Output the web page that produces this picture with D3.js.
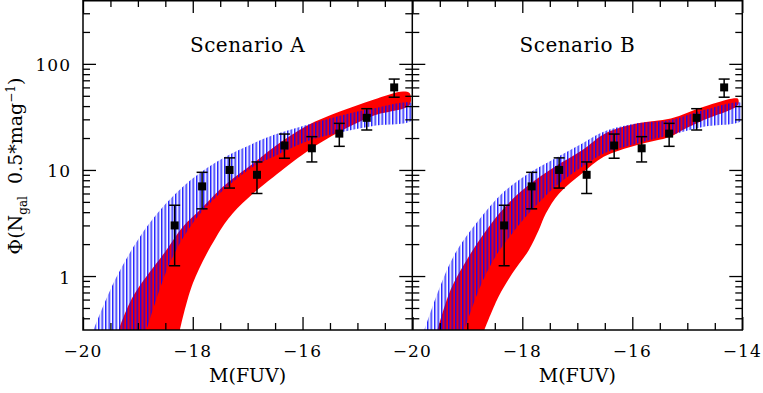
<!DOCTYPE html>
<html>
<head>
<meta charset="utf-8">
<script src="https://cdn.jsdelivr.net/npm/d3@7"></script>
<style>
body{margin:0;background:#fff}
svg{display:block;font-family:"DejaVu Serif",serif}
</style>
</head>
<body>
<div id="chart"></div>
<script>
var width = 763, height = 393;

// observed galaxy counts per 0.5 mag bin (same in both panels)
var mag   = [-18.33, -17.83, -17.33, -16.83, -16.33, -15.83, -15.33, -14.83, -14.33];
var phi   = [3, 7, 10, 9, 17, 16, 22, 31, 60];
var phiLo = [1.25, 4.3, 6.75, 6.0, 12.9, 11.9, 16.7, 23.8, 48.5];
var phiHi = [4.65, 9.5, 13.0, 11.9, 21.8, 20.6, 27.5, 37.8, 71.9];

// model envelopes, [M(FUV), phi]  -- scenario A
var redUpperA  = [[-19.36,0.3],[-19.09,0.64],[-18.48,1.76],[-18.18,2.92],[-17.87,4.19],[-17.45,6.95],[-17.14,9.3],[-16.9,11.5],[-16.53,16.3],[-15.93,26],[-15.32,35.5],[-14.71,46],[-14.17,55],[-14.05,53]];
var redLowerA  = [[-18.24,0.3],[-18.0,0.85],[-17.57,2.35],[-17.27,3.9],[-16.9,6.0],[-16.53,8.6],[-15.93,14.8],[-15.32,23],[-14.71,32.5],[-14.05,41]];
var blueUpperA = [[-19.82,0.3],[-19.39,0.98],[-18.79,3.14],[-18.18,6.95],[-17.57,11.9],[-16.9,17.8],[-16.53,21.3],[-15.93,26.5],[-15.32,32.5],[-14.71,38],[-14.0,42]];
var blueLowerA = [[-18.85,0.3],[-18.42,1.32],[-18.0,3.14],[-17.57,5.59],[-16.9,10.7],[-16.53,13.3],[-15.93,18.5],[-15.32,22.5],[-14.71,26],[-14.0,29.5]];

// scenario B
var redUpperB  = [[-19.55,0.3],[-19.3,0.75],[-19.0,1.45],[-18.7,2.5],[-18.4,4.0],[-18.1,5.8],[-17.8,7.8],[-17.4,10.8],[-16.9,15.5],[-16.5,22],[-15.9,27.5],[-15.3,30.6],[-14.7,39.4],[-14.15,47.3],[-14.08,47]];
var redLowerB  = [[-18.7,0.3],[-18.43,0.64],[-18.18,1.06],[-17.88,1.76],[-17.7,2.71],[-17.57,3.9],[-17.33,6.0],[-16.91,9.3],[-16.52,13.3],[-15.91,17.2],[-15.31,20.6],[-15.1,23.5],[-14.7,29.5],[-14.08,40.9]];
var blueUpperB = [[-19.79,0.3],[-19.52,0.74],[-19.22,1.64],[-18.79,3.37],[-18.37,6.0],[-17.88,9.3],[-17.4,12.9],[-16.91,17.8],[-16.52,22.9],[-15.91,27.5],[-15.31,29.5],[-14.7,36.7],[-14.0,42.4]];
var blueLowerB = [[-19.06,0.3],[-18.79,0.74],[-18.49,1.52],[-18.18,2.53],[-17.88,3.9],[-17.4,6.95],[-16.91,10.7],[-16.52,14.3],[-15.91,17.8],[-15.31,21.3],[-14.7,25.5],[-14.0,29.5]];

// axis ticks
var xMajor = [-20, -18, -16, -14];
var xMinor = [-19.5, -19, -18.5, -17.5, -17, -16.5, -15.5, -15, -14.5];
var yMajor = [1, 10, 100];
var yMinor = [0.4,0.5,0.6,0.7,0.8,0.9,2,3,4,5,6,7,8,9,20,30,40,50,60,70,80,90,200,300];

var plotTop = 0, plotBottom = 330;
var panels = [
  {title: "Scenario A", x0: 83, x1: 412.3, red: [redUpperA, redLowerA], blue: [blueUpperA, blueLowerA], xLabels: [-20, -18, -16]},
  {title: "Scenario B", x0: 412.3, x1: 742.3, red: [redUpperB, redLowerB], blue: [blueUpperB, blueLowerB], xLabels: [-20, -18, -16, -14]}
];

var svg = d3.select("#chart").append("svg")
    .attr("width", width)
    .attr("height", height);

var defs = svg.append("defs");
//vertical hatching for the blue envelope
var pat = defs.append("pattern")
    .attr("id", "hatch")
    .attr("patternUnits", "userSpaceOnUse")
    .attr("width", 3.5).attr("height", 20);
pat.append("rect").attr("x", 0).attr("y", 0).attr("width", 1.3).attr("height", 20)
    .attr("fill", "#0808ff").attr("fill-opacity", 0.9);
pat.append("rect").attr("x", 1.3).attr("y", 0).attr("width", 0.9).attr("height", 20)
    .attr("fill", "#0000ff").attr("fill-opacity", 0.3);

var y = d3.scaleLog().domain([0.31, 400]).range([plotBottom, plotTop]);
var fmt = d3.format("d");

panels.forEach(function(p, i) {
  var x = d3.scaleLinear().domain([-20, -14]).range([p.x0, p.x1]);

  defs.append("clipPath").attr("id", "clip" + i)
    .append("rect").attr("x", p.x0).attr("y", plotTop).attr("width", p.x1 - p.x0).attr("height", plotBottom - plotTop);

  var line = d3.line()
      .x(function(d) { return x(d[0]); })
      .y(function(d) { return y(d[1]); })
      .curve(d3.curveCatmullRom.alpha(0.5));

  var band = svg.append("g").attr("clip-path", "url(#clip" + i + ")");
  band.append("path")
      .attr("d", line(p.red[0].concat(p.red[1].slice().reverse())) + "Z")
      .attr("fill", "#ff0000");
  band.append("path")
      .attr("d", line(p.blue[0].concat(p.blue[1].slice().reverse())) + "Z")
      .attr("fill", "url(#hatch)");

  //error bars + squares
  var pts = svg.append("g");
  mag.forEach(function(m, k) {
    var cx = x(m);
    pts.append("line").attr("x1", cx).attr("x2", cx).attr("y1", y(phiLo[k])).attr("y2", y(phiHi[k]))
      .attr("stroke", "#000").attr("stroke-width", 1.5);
    [phiLo[k], phiHi[k]].forEach(function(v) {
      pts.append("line").attr("x1", cx - 5.5).attr("x2", cx + 5.5).attr("y1", y(v)).attr("y2", y(v))
        .attr("stroke", "#000").attr("stroke-width", 1.5);
    });
    pts.append("rect").attr("x", cx - 4).attr("y", y(phi[k]) - 4).attr("width", 8).attr("height", 8).attr("fill", "#000");
  });

  //ticks, all pointing inward
  function ticks(axis, tx, ty, vals, size) {
    var g = svg.append("g").attr("transform", "translate(" + tx + "," + ty + ")")
      .call(axis.tickValues(vals).tickSize(-size).tickFormat(""));
    g.select(".domain").remove();
    g.selectAll("line").attr("stroke", "#000").attr("stroke-width", 1.3);
  }
  ticks(d3.axisBottom(x), 0, plotBottom, xMajor, 13);
  ticks(d3.axisBottom(x), 0, plotBottom, xMinor, 7);
  ticks(d3.axisTop(x), 0, plotTop, xMajor, 13);
  ticks(d3.axisTop(x), 0, plotTop, xMinor, 7);
  ticks(d3.axisLeft(y), p.x0, 0, yMajor, 13);
  ticks(d3.axisLeft(y), p.x0, 0, yMinor, 7);
  ticks(d3.axisRight(y), p.x1, 0, yMajor, 13);
  ticks(d3.axisRight(y), p.x1, 0, yMinor, 7);

  svg.append("g").selectAll("text").data(p.xLabels).join("text")
      .attr("x", function(d) { return x(d); })
      .attr("y", 356.5)
      .attr("text-anchor", "middle")
      .style("font-size", "17px")
      .style("letter-spacing", "1px")
      .text(function(d) { return fmt(d); });

  svg.append("text")
      .attr("x", (p.x0 + p.x1) / 2).attr("y", 382)
      .attr("text-anchor", "middle")
      .style("font-size", "19px")
      .text("M(FUV)");

  svg.append("text")
      .attr("x", (p.x0 + p.x1) / 2).attr("y", 51.5)
      .attr("text-anchor", "middle")
      .style("font-size", "20px")
      .style("letter-spacing", "0.5px")
      .text(p.title);
});

// frame
svg.append("rect").attr("x", 83).attr("y", 0.75).attr("width", 742.3 - 83).attr("height", plotBottom - 0.75)
    .attr("fill", "none").attr("stroke", "#000").attr("stroke-width", 1.5);
svg.append("line").attr("x1", 412.3).attr("x2", 412.3).attr("y1", 0).attr("y2", plotBottom)
    .attr("stroke", "#000").attr("stroke-width", 1.5);

// y tick labels
svg.append("g").selectAll("text").data(yMajor).join("text")
    .attr("x", 71)
    .attr("y", function(d) { return y(d) + 7.5; })
    .attr("text-anchor", "end")
    .style("font-size", "17px")
    .style("letter-spacing", "1px")
    .text(function(d) { return d; });

// y axis title
var yt = svg.append("text")
    .attr("transform", "translate(22,166) rotate(-90)")
    .attr("text-anchor", "middle")
    .style("font-size", "19px");
yt.append("tspan").text("\u03A6(N");
yt.append("tspan").attr("dy", 5).style("font-size", "12px").text("gal");
yt.append("tspan").attr("dy", -5).text("\u00A0\u00A00.5*mag");
yt.append("tspan").attr("dy", -7).style("font-size", "12px").text("\u22121");
yt.append("tspan").attr("dy", 7).text(")");
</script>
</body>
</html>
